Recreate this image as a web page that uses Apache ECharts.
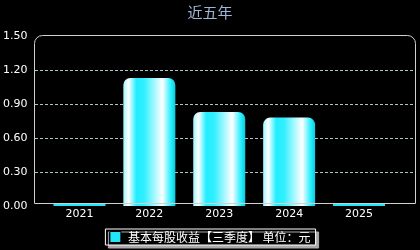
<!DOCTYPE html>
<html><head><meta charset="utf-8">
<script src="https://cdn.jsdelivr.net/npm/echarts@6/dist/echarts.min.js"></script>
<style>html,body{margin:0;padding:0;background:#000}#c{width:420px;height:250px}</style>
</head><body><div id="c"></div>
<script>
const titleText = '近五年';
const seriesName = '基本每股收益【三季度】 单位：元';
const categories = ['2021', '2022', '2023', '2024', '2025'];
const values = [0, 1.13, 0.83, 0.78, 0];
const yTicks = [0, 0.3, 0.6, 0.9, 1.2, 1.5];

const grad = new echarts.graphic.LinearGradient(0, 0, 1, 0, [
  {offset: 0, color: '#9ef4ff'},
  {offset: 0.1, color: '#ffffff'},
  {offset: 0.25, color: '#22eeff'},
  {offset: 0.4, color: '#30efff'},
  {offset: 0.75, color: '#ffffff'},
  {offset: 0.92, color: '#22eeff'},
  {offset: 1, color: '#10c8dd'}
]);

const chart = echarts.init(document.getElementById('c'));
chart.setOption({
  backgroundColor: '#000',
  animation: false,
  title: {text: titleText, left: 'center', top: 0,
    textStyle: {color: '#9fb6d6', fontSize: 15, fontWeight: 'normal', fontFamily: 'Noto Sans CJK SC'}},
  grid: [
    {left: 44, right: 26, top: 36, bottom: 44},
    {left: 35, right: 5, top: 36, bottom: 44}
  ],
  xAxis: [
    {type: 'category', gridIndex: 0, data: categories,
      axisLine: {show: false}, axisTick: {show: false},
      axisLabel: {color: '#ffffff', fontSize: 11, margin: 3, fontFamily: 'DejaVu Sans'}},
    {type: 'value', gridIndex: 1, show: false, min: 0, max: 1}
  ],
  yAxis: [
    {type: 'value', gridIndex: 0, min: yTicks[0], max: yTicks[yTicks.length - 1], interval: 0.3,
      axisLine: {show: false}, axisTick: {show: false}, splitLine: {show: false},
      axisLabel: {color: '#ffffff', fontSize: 11, margin: 17, fontFamily: 'DejaVu Sans',
        formatter: v => v.toFixed(2)}},
    {type: 'value', gridIndex: 1, min: yTicks[0], max: yTicks[yTicks.length - 1], interval: 0.3,
      axisLine: {show: false}, axisTick: {show: false}, axisLabel: {show: false},
      splitLine: {show: true, showMinLine: false, showMaxLine: false,
        lineStyle: {color: '#a8c8d0', type: [3, 2], width: 1}}}
  ],
  legend: {
    top: 229, left: 'center',
    data: [{name: seriesName, icon: 'rect', itemStyle: {color: '#22e6f8', borderColor: '#000', borderWidth: 1}}],
    backgroundColor: '#000', borderColor: '#ffffff', borderWidth: 1,
    padding: [2, 5, 2, 4], itemWidth: 11, itemHeight: 11, itemGap: 4,
    shadowColor: '#aaaaaa', shadowOffsetX: 3, shadowOffsetY: 3, shadowBlur: 0,
    textStyle: {color: '#ffffff', fontSize: 12, fontFamily: 'Noto Sans CJK SC', padding: [0, 0, 0, 2]}
  },
  graphic: [{
    type: 'rect', z: 10, silent: true,
    shape: {x: 34.5, y: 35.5, width: 381, height: 168, r: [8, 8, 0, 0]},
    style: {fill: 'none', stroke: '#d0d0d0', lineWidth: 1}
  }],
  series: [{
    name: seriesName, type: 'bar', xAxisIndex: 0, yAxisIndex: 0,
    barWidth: 52, barMinHeight: 2,
    data: values.map(v => v === 0 ? {value: v, itemStyle: {color: '#22e6f8', borderRadius: 0}} : v),
    itemStyle: {color: grad, borderRadius: [7, 7, 0, 0]}
  }]
});
</script></body></html>
